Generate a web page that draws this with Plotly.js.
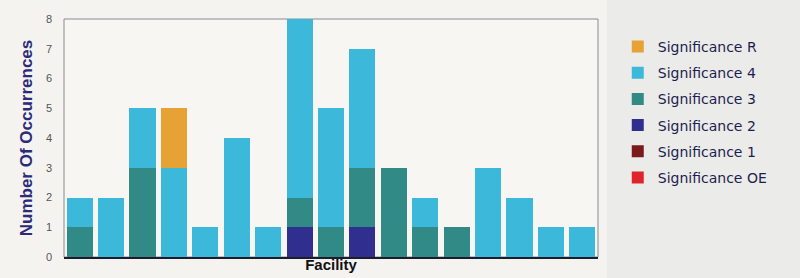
<!DOCTYPE html>
<html>
<head>
<meta charset="utf-8">
<script src="https://cdn.plot.ly/plotly-3.0.1.min.js"></script>
<style>html,body{margin:0;padding:0;background:#f4f3ef;}#chart{width:800px;height:278px;}</style>
</head>
<body>
<div id="chart"></div>
<script>
const facilities = ["F1","F2","F3","F4","F5","F6","F7","F8","F9","F10","F11","F12","F13","F14","F15","F16","F17"];
const sigOE = [0,0,0,0,0,0,0,0,0,0,0,0,0,0,0,0,0];
const sig1  = [0,0,0,0,0,0,0,0,0,0,0,0,0,0,0,0,0];
const sig2  = [0,0,0,0,0,0,0,1,0,1,0,0,0,0,0,0,0];
const sig3  = [1,0,3,0,0,0,0,1,1,2,3,1,1,0,0,0,0];
const sig4  = [1,2,2,3,1,4,1,6,4,4,0,1,0,3,2,1,1];
const sigR  = [0,0,0,2,0,0,0,0,0,0,0,0,0,0,0,0,0];
const seriesNames = ["Significance OE","Significance 1","Significance 2","Significance 3","Significance 4","Significance R"];
const seriesValues = [sigOE, sig1, sig2, sig3, sig4, sigR];
const seriesColors = ["#e0242c","#7a1a1a","#302e8e","#318a85","#3cb8da","#e6a234"];

const traces = seriesNames.map((n,i)=>({
  type:'bar', name:n, x:facilities, y:seriesValues[i],
  marker:{color:seriesColors[i], line:{width:0}},
  legendgroup:'g'+i, legendrank:(seriesNames.length-i)*10, hoverinfo:'y+name'
}));

const layout = {
  width:800, height:278,
  barmode:'stack', bargap:0.17,
  paper_bgcolor:'#f4f3ef', plot_bgcolor:'#f7f6f2',
  margin:{l:64, r:202, t:19, b:21},
  font:{family:'Liberation Sans, Arial, sans-serif'},
  xaxis:{
    showticklabels:false, ticks:'', showgrid:false, zeroline:false,
    showline:true, linecolor:'#1c1c2c', linewidth:2,
    title:{text:'<b>Facility</b>', font:{size:15, color:'#111111'}, standoff:1}
  },
  yaxis:{
    range:[0,8], dtick:1, tick0:0, showgrid:false, zeroline:false,
    ticks:'', ticklabelstandoff:11,
    tickfont:{size:11, color:'#555555'},
    showline:false,
    title:{text:'<b>Number Of Occurrences</b>', font:{size:17, color:'#2b2b7a'}, standoff:8}
  },
  legend:{
    x:1.037, y:0.95, xanchor:'left', yanchor:'top',
    traceorder:'grouped', tracegroupgap:5,
    font:{family:'DejaVu Sans, sans-serif', size:14, color:'#1e1e4e'}, bgcolor:'rgba(0,0,0,0)'
  },
  shapes:[
    {type:'rect', xref:'paper', yref:'paper', x0:1.017, x1:1.4, y0:-0.2, y1:1.2,
     fillcolor:'#ebebea', line:{width:0}, layer:'below'},
    {type:'rect', xref:'paper', yref:'paper', x0:0, x1:1, y0:0, y1:1,
     line:{color:'#8a8a8a', width:1}, fillcolor:'rgba(0,0,0,0)', layer:'below'}
  ]
};
Plotly.newPlot('chart', traces, layout, {displayModeBar:false, staticPlot:true});
</script>
</body>
</html>
